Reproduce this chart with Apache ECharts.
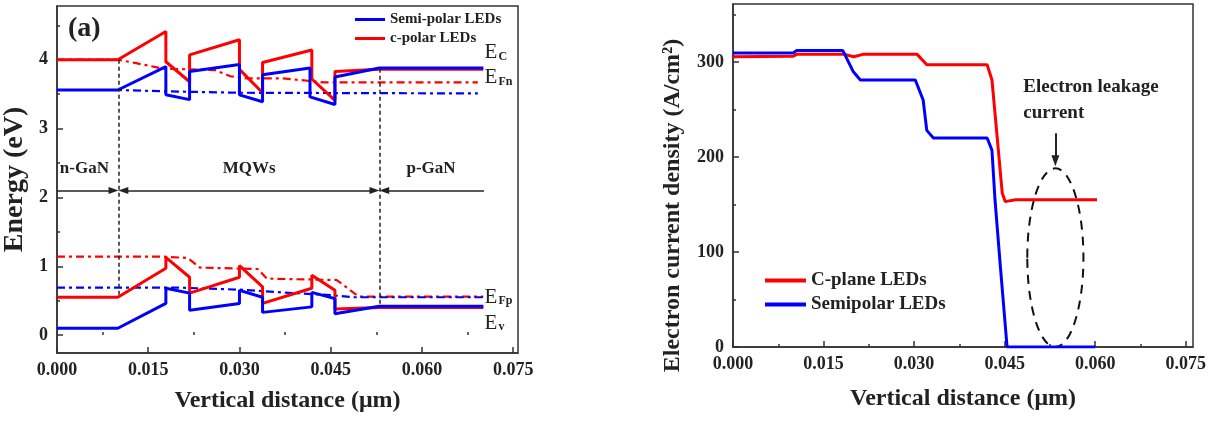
<!DOCTYPE html>
<html>
<head>
<meta charset="utf-8">
<title>Band diagram and electron current density</title>
<script src="https://cdn.jsdelivr.net/npm/echarts@6.0.0/dist/echarts.min.js"></script>
<style>
html, body { margin: 0; padding: 0; background: #fff; }
#main { width: 1218px; height: 422px; }
</style>
</head>
<body>
<div id="main"></div>
<script>
var FONT = "'Liberation Serif', 'Times New Roman', serif";
var RED = '#ff0000';
var BLUE = '#0000ff';
var INK = '#222';

// (a) band diagram: x in um, energy in eV
var cEc = [[0,4.0],[0.010,4.0],[0.0179,4.41],[0.0179,3.97],[0.0218,3.68],[0.0218,4.07],[0.030,4.29],[0.030,3.86],[0.0338,3.52],[0.0338,3.96],[0.0419,4.14],[0.0419,3.72],[0.0457,3.41],[0.0457,3.83],[0.053,3.86],[0.0701,3.86]];
var sEc = [[0,3.56],[0.010,3.56],[0.0179,3.9],[0.0179,3.49],[0.0218,3.42],[0.0218,3.83],[0.030,3.93],[0.030,3.49],[0.0338,3.39],[0.0338,3.78],[0.0416,3.88],[0.0416,3.46],[0.0457,3.35],[0.0457,3.75],[0.053,3.88],[0.0701,3.88]];
var cEFn = [[0,4.0],[0.010,4.0],[0.013,3.95],[0.0175,3.87],[0.026,3.85],[0.0285,3.76],[0.031,3.73],[0.037,3.73],[0.044,3.67],[0.0692,3.67]];
var sEFn = [[0,3.56],[0.010,3.56],[0.018,3.54],[0.030,3.52],[0.0692,3.51]];
var cEv = [[0,0.55],[0.010,0.55],[0.0179,0.97],[0.0179,1.13],[0.0218,0.84],[0.0218,0.61],[0.030,0.84],[0.030,1.01],[0.0338,0.70],[0.0338,0.46],[0.0419,0.68],[0.0419,0.87],[0.0457,0.65],[0.0457,0.38],[0.053,0.40],[0.0701,0.40]];
var sEv = [[0,0.10],[0.010,0.10],[0.0179,0.46],[0.0179,0.68],[0.0218,0.61],[0.0218,0.36],[0.030,0.46],[0.030,0.65],[0.0338,0.55],[0.0338,0.33],[0.0419,0.41],[0.0419,0.62],[0.0457,0.53],[0.0457,0.31],[0.053,0.42],[0.0701,0.42]];
var cEFp = [[0,1.14],[0.0175,1.14],[0.0215,1.12],[0.0235,0.98],[0.033,0.96],[0.0345,0.82],[0.046,0.80],[0.0496,0.56],[0.0701,0.56]];
var sEFp = [[0,0.69],[0.020,0.69],[0.030,0.66],[0.037,0.62],[0.045,0.58],[0.049,0.55],[0.0701,0.55]];

// (b) electron current density, A/cm2
var cJ = [[0,305.5],[0.010,306],[0.0105,308],[0.0185,308],[0.0200,305.5],[0.0215,308],[0.0305,308],[0.0321,297],[0.0421,297],[0.0429,281],[0.0437,225],[0.0446,162],[0.0451,153],[0.0468,155],[0.0603,155]];
var sJ = [[0,309.5],[0.010,309.5],[0.0105,312],[0.0182,312],[0.0199,290],[0.0211,281],[0.0302,281],[0.0315,260],[0.0321,228],[0.0332,220],[0.0421,220],[0.0429,207],[0.0434,155],[0.0443,84],[0.0454,0],[0.0600,0]];

// axes
var xTicks = [0, 0.015, 0.030, 0.045, 0.060, 0.075];
var xMinorTicks = [0.0075, 0.0225, 0.0375, 0.0525, 0.0675];
var energyTicks = [0, 1, 2, 3, 4];
var energyMinorTicks = [0.5, 1.5, 2.5, 3.5, 4.5];
var currentTicks = [0, 100, 200, 300];
var currentMinorTicks = [50, 150, 250, 350];

// region marks in (a)
var regionEdges = [0, 0.0101, 0.053, 0.0702];
var dividerTops = [4.0, 3.87];
var dividerBottoms = [0.55, 0.41];
var arrowLevel = 2.1;
var regionNames = ['n-GaN', 'MQWs', 'p-GaN'];
var regionLabelX = [0.0045, 0.0316, 0.0615];
var regionLabelY = 2.42;
var bandNames = ['{e|E}{s|C}', '{e|E}{s|Fn}', '{e|E}{s|Fp}', '{e|E}{s|v}'];
var bandLabelY = [4.1, 3.74, 0.55, 0.17];
var bandLabelX = 0.0703;

// leakage note in (b)
var leakX = 0.0534;
var leakArrow = [225, 196];
var leakEllipse = [94, 0.00465, 94]; // centre y, half width, half height

var chart = echarts.init(document.getElementById('main'));

function bandLine(name, data, color, dashed) {
	return {
		name: name, type: 'line', xAxisIndex: 0, yAxisIndex: 0,
		data: data, symbol: 'none', silent: true,
		itemStyle: { color: color },
		lineStyle: { color: color, width: dashed ? 2.2 : 3, type: dashed ? [8, 4, 3, 4] : 'solid' }
	};
}

function currentLine(name, data, color) {
	return {
		name: name, type: 'line', xAxisIndex: 2, yAxisIndex: 2,
		data: data, symbol: 'none', silent: true,
		itemStyle: { color: color },
		lineStyle: { color: color, width: 3 }
	};
}

function xAxisPair(grid, max) {
	var major = {
		type: 'value', gridIndex: grid, position: 'bottom', min: 0, max: max,
		name: 'Vertical distance (\u03bcm)', nameLocation: 'middle', nameGap: grid == 0 ? 36 : 40,
		nameTextStyle: { fontFamily: FONT, fontWeight: 'bold', fontSize: 24, color: INK },
		axisLine: { onZero: false, lineStyle: { color: '#333', width: 1.5 } },
		axisTick: { inside: true, length: 6, customValues: xTicks, lineStyle: { color: '#333', width: 1.5 } },
		axisLabel: { customValues: xTicks, margin: 8, fontFamily: FONT, fontWeight: 'bold', fontSize: 18, color: INK,
			formatter: function (v) { return v.toFixed(3); } },
		splitLine: { show: false }
	};
	var minor = {
		type: 'value', gridIndex: grid, position: 'bottom', min: 0, max: max,
		axisLine: { show: false },
		axisTick: { inside: true, length: 3, customValues: xMinorTicks, lineStyle: { color: '#333', width: 1.5 } },
		axisLabel: { show: false },
		splitLine: { show: false }
	};
	return [major, minor];
}

function yAxisPair(grid, min, max, ticks, minorTicks, name, nameGap, nameSize, namePad) {
	var major = {
		type: 'value', gridIndex: grid, position: 'left', min: min, max: max,
		name: name, nameLocation: 'middle', nameGap: nameGap,
		nameTextStyle: { fontFamily: FONT, fontWeight: 'bold', fontSize: nameSize, color: INK, padding: namePad },
		axisLine: { onZero: false, lineStyle: { color: '#333', width: 1.5 } },
		axisTick: { inside: true, length: 6, customValues: ticks, lineStyle: { color: '#333', width: 1.5 } },
		axisLabel: { customValues: ticks, margin: 9, fontFamily: FONT, fontWeight: 'bold', fontSize: 18, color: INK },
		splitLine: { show: false }
	};
	var minor = {
		type: 'value', gridIndex: grid, position: 'left', min: min, max: max,
		axisLine: { show: false },
		axisTick: { inside: true, length: 3, customValues: minorTicks, lineStyle: { color: '#333', width: 1.5 } },
		axisLabel: { show: false },
		splitLine: { show: false }
	};
	return [major, minor];
}

var guideStyle = { color: INK, width: 1.5, type: 'solid' };
var dashStyle = { color: INK, width: 1.5, type: [4, 3] };
var tip = 0.0008;

var option = {
	animation: false,
	grid: [
		{ left: 53, top: 6, width: 465, height: 347, show: true, borderColor: '#333', borderWidth: 1.5 },
		{ left: 733, top: 4, width: 460, height: 343, show: true, borderColor: '#333', borderWidth: 1.5 }
	],
	xAxis: xAxisPair(0, 0.0758).concat(xAxisPair(1, 0.0762)),
	yAxis: yAxisPair(0, -0.26, 4.78, energyTicks, energyMinorTicks, 'Energy (eV)', 28, 28, 0)
		.concat(yAxisPair(1, 0, 361, currentTicks, currentMinorTicks, 'Electron current density (A/cm\u00b2)', 48, 24, [0, 60, 0, 0])),
	legend: [
		{
			data: ['Semi-polar LEDs', 'c-polar LEDs'], orient: 'vertical', left: 350, top: 7,
			icon: 'rect', itemWidth: 30, itemHeight: 3, itemGap: 4, selectedMode: false,
			textStyle: { fontFamily: FONT, fontWeight: 'bold', fontSize: 15, color: INK }
		},
		{
			data: ['C-plane LEDs', 'Semipolar LEDs'], orient: 'vertical', left: 760, top: 266,
			icon: 'rect', itemWidth: 41, itemHeight: 4, itemGap: 5, selectedMode: false,
			textStyle: { fontFamily: FONT, fontWeight: 'bold', fontSize: 19, color: INK }
		}
	],
	series: [
		bandLine('c-polar EFn', cEFn, RED, true),
		bandLine('Semi-polar EFn', sEFn, BLUE, true),
		bandLine('c-polar EFp', cEFp, RED, true),
		bandLine('Semi-polar EFp', sEFp, BLUE, true),
		bandLine('c-polar LEDs', cEc, RED, false),
		bandLine('Semi-polar LEDs', sEc, BLUE, false),
		bandLine('c-polar Ev', cEv, RED, false),
		bandLine('Semi-polar Ev', sEv, BLUE, false),
		{
			name: 'regions', type: 'line', xAxisIndex: 0, yAxisIndex: 0, data: [], silent: true,
			markLine: {
				silent: true, symbol: ['none', 'none'], symbolSize: [7, 10], label: { show: false },
				emphasis: { disabled: true },
				data: [
					[{ coord: [regionEdges[1], dividerTops[0]], lineStyle: dashStyle }, { coord: [regionEdges[1], dividerBottoms[0]] }],
					[{ coord: [regionEdges[2], dividerTops[1]], lineStyle: dashStyle }, { coord: [regionEdges[2], dividerBottoms[1]] }],
					[{ coord: [regionEdges[0], arrowLevel], lineStyle: guideStyle },
					 { coord: [regionEdges[1] - tip, arrowLevel], symbol: 'triangle' }],
					[{ coord: [regionEdges[1] + tip, arrowLevel], symbol: 'triangle', lineStyle: guideStyle },
					 { coord: [regionEdges[2] - tip, arrowLevel], symbol: 'triangle' }],
					[{ coord: [regionEdges[2] + tip, arrowLevel], symbol: 'triangle', lineStyle: guideStyle },
					 { coord: [regionEdges[3], arrowLevel] }]
				]
			}
		},
		currentLine('C-plane LEDs', cJ, RED),
		currentLine('Semipolar LEDs', sJ, BLUE),
		{
			name: 'leakage', type: 'line', xAxisIndex: 2, yAxisIndex: 2, data: [], silent: true,
			markLine: {
				silent: true, symbol: ['none', 'triangle'], symbolSize: [8, 11], label: { show: false },
				emphasis: { disabled: true },
				lineStyle: { color: INK, width: 2, type: 'solid' },
				data: [[{ coord: [leakX, leakArrow[0]] }, { coord: [leakX, leakArrow[1]] }]]
			}
		}
	]
};
chart.setOption(option);

// text notes and the dashed ellipse, placed from data values
function px(grid, pt) {
	return chart.convertToPixel({ xAxisIndex: grid * 2, yAxisIndex: grid * 2 }, pt);
}

var graphics = [];
var tag = px(0, [0.0045, 4.45]);
graphics.push({ type: 'text', x: tag[0], y: tag[1], style: { text: '(a)', font: 'bold 28px ' + FONT, fill: INK, align: 'center', verticalAlign: 'middle' } });
for (var i = 0; i < regionNames.length; i++) {
	var p = px(0, [regionLabelX[i], regionLabelY]);
	graphics.push({ type: 'text', x: p[0], y: p[1], style: { text: regionNames[i], font: 'bold 17px ' + FONT, fill: INK, align: 'center', verticalAlign: 'middle' } });
}
for (var j = 0; j < bandNames.length; j++) {
	var q = px(0, [bandLabelX, bandLabelY[j]]);
	graphics.push({
		type: 'text', x: q[0], y: q[1],
		style: {
			text: bandNames[j], fill: INK, align: 'left', verticalAlign: 'middle',
			rich: {
				e: { fontFamily: FONT, fontSize: 21, fill: INK },
				s: { fontFamily: FONT, fontSize: 12, fontWeight: 'bold', fill: INK, padding: [0, 0, -8, 1] }
			}
		}
	});
}
var note = px(1, [0.0481, 287]);
graphics.push({ type: 'text', x: note[0], y: note[1], style: { text: 'Electron leakage\ncurrent', font: 'bold 19px ' + FONT, fill: INK, lineHeight: 26, align: 'left', verticalAlign: 'top' } });
var c = px(1, [leakX, leakEllipse[0]]);
var edge = px(1, [leakX + leakEllipse[1], leakEllipse[0] + leakEllipse[2]]);
graphics.push({
	type: 'ellipse', silent: true,
	shape: { cx: c[0], cy: c[1], rx: Math.abs(edge[0] - c[0]), ry: Math.abs(c[1] - edge[1]) },
	style: { fill: 'none', stroke: '#111', lineWidth: 2, lineDash: [9, 7] }
});
chart.setOption({ graphic: graphics });
</script>
</body>
</html>
